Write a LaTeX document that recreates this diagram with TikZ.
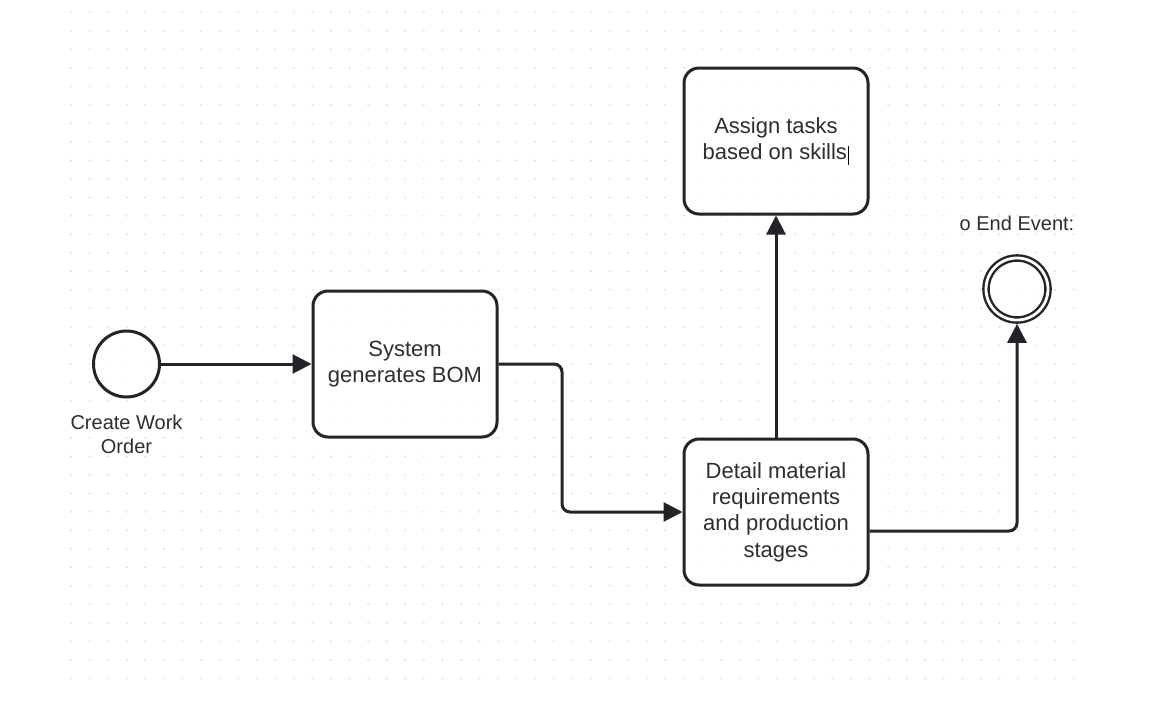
\documentclass[tikz,border=0pt]{standalone}
\usepackage{fontspec}
\setmainfont{Liberation Sans}
\usetikzlibrary{positioning}
\usetikzlibrary{arrows.meta}
\definecolor{ink}{HTML}{22242A}
\definecolor{txt}{HTML}{2E2E2E}
\definecolor{griddot}{HTML}{DCDCDC}
\tikzset{>={Triangle[length=19pt,width=19pt]}}
\tikzset{task/.style={draw=ink, line width=3pt, rounded corners=15pt, fill=white, fill opacity=0.85, text opacity=1, minimum width=184pt, minimum height=146pt, align=center, text=txt, font=\fontsize{22pt}{26.3pt}\selectfont}}
\tikzset{startev/.style={draw=ink, circle, line width=3pt, minimum size=66pt, inner sep=0pt, fill=white, fill opacity=0.85}}
\tikzset{endev/.style={draw=ink, circle, line width=2.4pt, double=white, double distance=2.8pt, minimum size=62pt, inner sep=0pt, outer sep=3.8pt, fill=white, fill opacity=0.85}}
\tikzset{evlabel/.style={align=center, inner sep=0pt, text=txt, font=\fontsize{20pt}{24pt}\selectfont}}
\tikzset{flow/.style={draw=ink, line width=3pt, ->, rounded corners=8pt}}

\begin{document}
\begin{tikzpicture}[x=1pt,y=-1pt]
\useasboundingbox (0,0) rectangle (1173,707);
\fill[white] (0,0) rectangle (1173,707);
\foreach \i in {0,...,54}
  \foreach \j in {0,...,36}
    \fill[griddot] (71+18.57*\i, 12.3+18.5*\j) circle (1pt);

\begin{scope}[on grid]
\node[startev] (start) at (126.5,364) {};
\node[task] (bom) [right=278.5pt of start] {System\\generates BOM};
\node[task] (detail) [below right=148pt and 371pt of bom] {Detail material\\requirements\\and production\\stages};
\node[task] (assign) [above=371pt of detail] {Assign tasks\\based on skills\hspace{1pt}\textcolor{black}{\rule[-5pt]{1.3pt}{19pt}}};
\node[endev] (finish) at (1017,289) {};
\node[evlabel] (startlbl) [below=70pt of start] {Create Work\\Order};
\node[evlabel] (finishlbl) [above=66pt of finish] {o End Event:};
\end{scope}

\draw[flow] (start) -- (bom);
\draw[flow] (bom.east) -- ++(63.5pt,0pt) |- (detail);
\draw[flow] (detail) -- (assign);
\draw[flow] ([yshift=-19pt]detail.east) -| (finish);
\end{tikzpicture}
\end{document}
